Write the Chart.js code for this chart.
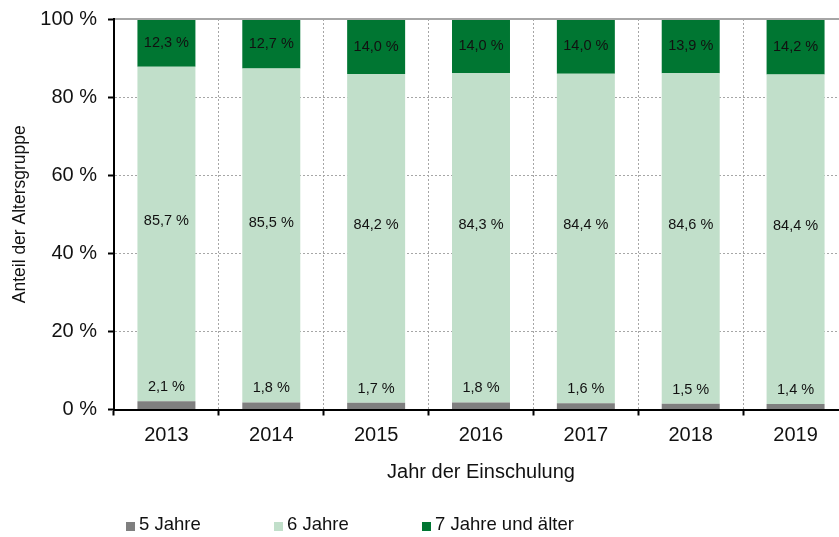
<!DOCTYPE html>
<html lang="de">
<head>
<meta charset="utf-8">
<script src="https://cdn.jsdelivr.net/npm/chart.js@4"></script>
<style>
  body { margin: 0; overflow: hidden; background: #fff; }
  #wrap { position: relative; width: 839px; height: 537px; overflow: hidden; }
  #legend { position: absolute; left: 126px; top: 514px; display: flex;
    font: 18.5px "Liberation Sans", Arial, sans-serif; line-height: 20px; color: #111; }
  #legend .item { position: relative; width: 148px; padding-left: 13px; box-sizing: border-box; white-space: nowrap; }
  #legend .box { position: absolute; left: 0; top: 8px; width: 9px; height: 9px; }
</style>
</head>
<body>
<div id="wrap">
  <canvas id="chart" width="850" height="537"></canvas>
  <div id="legend"></div>
</div>
<script>
const years = ['2013', '2014', '2015', '2016', '2017', '2018', '2019'];
const age5 = [2.1, 1.8, 1.7, 1.8, 1.6, 1.5, 1.4];
const age6 = [85.7, 85.5, 84.2, 84.3, 84.4, 84.6, 84.4];
const age7 = [12.3, 12.7, 14.0, 14.0, 14.0, 13.9, 14.2];
const yTicks = [0, 20, 40, 60, 80, 100];

const font = '"Liberation Sans", Arial, sans-serif';
const gridGray = '#a6a6a6';

function pct(v) {
  return v.toFixed(1).replace('.', ',') + ' %';
}

// value labels inside / above the bar segments
const barLabels = {
  id: 'barLabels',
  afterDatasetsDraw(chart) {
    const ctx = chart.ctx;
    const area = chart.chartArea;
    ctx.save();
    ctx.font = '14.5px ' + font;
    ctx.fillStyle = '#111';
    ctx.textAlign = 'center';
    ctx.textBaseline = 'middle';
    chart.data.datasets.forEach((ds, i) => {
      chart.getDatasetMeta(i).data.forEach((bar, j) => {
        const top = Math.max(bar.y, area.top);
        let y;
        if (i === 0) y = top - 14;
        else if (i === 1) y = (top + bar.base) / 2 - 13;
        else y = (top + bar.base) / 2;
        ctx.fillText(pct(ds.data[j]), bar.x, y);
      });
    });
    ctx.restore();
  },
  afterDraw(chart) {
    // solid grey frame line at 100 %
    const ctx = chart.ctx;
    const area = chart.chartArea;
    ctx.save();
    ctx.strokeStyle = gridGray;
    ctx.lineWidth = 2;
    ctx.beginPath();
    ctx.moveTo(area.left + 1, area.top);
    ctx.lineTo(area.right, area.top);
    ctx.stroke();
    ctx.restore();
  }
};

const chart = new Chart(document.getElementById('chart'), {
  type: 'bar',
  data: {
    labels: years,
    datasets: [
      { label: '5 Jahre', data: age5, backgroundColor: '#7f7f7f' },
      { label: '6 Jahre', data: age6, backgroundColor: '#c1dfca' },
      { label: '7 Jahre und älter', data: age7, backgroundColor: '#007632' }
    ]
  },
  options: {
    responsive: false,
    animation: false,
    layout: { padding: { top: 19, right: 2, bottom: 47.5, left: 0 } },
    datasets: { bar: { categoryPercentage: 1, barPercentage: 0.553 } },
    plugins: { legend: { display: false }, tooltip: { enabled: false } },
    scales: {
      x: {
        stacked: true,
        afterFit(scale) { scale.height = 80; },
        grid: { color: gridGray, tickColor: '#000', tickLength: 6, tickWidth: 2, lineWidth: 1 },
        border: { color: '#000', width: 2, dash: [2, 2] },
        ticks: { color: '#111', padding: 8, font: { family: font, size: 20 } },
        title: { display: true, text: 'Jahr der Einschulung', color: '#111',
          font: { family: font, size: 20 }, padding: { top: 0, bottom: 5.5 } }
      },
      y: {
        stacked: true,
        min: 0,
        max: 100,
        afterFit(scale) {
          scale.width = 114;
          scale.paddingTop = 0;
          scale.paddingBottom = 0;
        },
        afterBuildTicks(scale) { scale.ticks = yTicks.map(v => ({ value: v })); },
        grid: {
          color: c => (c.tick && c.tick.value === 100 ? 'rgba(0,0,0,0)' : gridGray),
          tickColor: '#000', tickLength: 6, tickWidth: 2, lineWidth: 1
        },
        border: { color: '#000', width: 2, dash: [2, 2] },
        ticks: { color: '#111', padding: 11, font: { family: font, size: 20 },
          callback: v => v + ' %' },
        title: { display: true, text: 'Anteil der Altersgruppe', color: '#111',
          font: { family: font, size: 17.5 }, padding: { top: 9.5, bottom: 0 } }
      }
    }
  },
  plugins: [barLabels]
});

// legend built from the chart's datasets
const legend = document.getElementById('legend');
chart.data.datasets.forEach(ds => {
  const item = document.createElement('div');
  item.className = 'item';
  item.innerHTML = '<span class="box" style="background:' + ds.backgroundColor + '"></span>' + ds.label;
  legend.appendChild(item);
});
</script>
</body>
</html>
